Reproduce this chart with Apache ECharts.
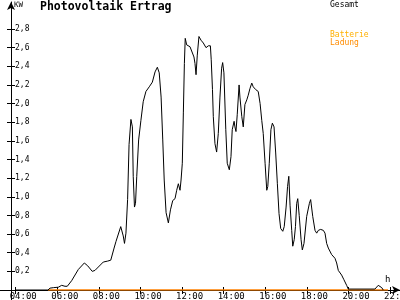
<!DOCTYPE html>
<html><head><meta charset="utf-8">
<script src="https://cdn.jsdelivr.net/npm/echarts@6/dist/echarts.min.js"></script>
<style>html,body{margin:0;padding:0;background:#fff}#c{width:400px;height:300px}</style>
</head><body><div id="c"></div>
<script>
// Time of day (hours) for the "Gesamt" curve
const timeHours = [4.00,5.55,5.65,5.81,6.05,6.21,6.37,6.48,6.69,7.01,
  7.30,7.46,7.68,7.81,8.21,8.42,8.57,8.73,8.82,9.05,
  9.17,9.23,9.30,9.38,9.45,9.54,9.61,9.65,9.71,9.76,
  9.82,9.91,10.02,10.13,10.26,10.42,10.57,10.70,10.81,10.90,
  10.99,11.07,11.14,11.23,11.34,11.44,11.55,11.66,11.74,11.82,
  11.90,11.95,12.01,12.06,12.11,12.15,12.22,12.30,12.38,12.46,
  12.57,12.62,12.67,12.73,12.81,12.91,13.02,13.15,13.26,13.36,
  13.40,13.46,13.50,13.58,13.66,13.74,13.82,13.90,13.95,14.01,
  14.10,14.17,14.27,14.35,14.41,14.50,14.54,14.59,14.65,14.74,
  14.78,14.87,14.94,15.02,15.11,15.18,15.26,15.35,15.42,15.54,
  15.66,15.75,15.83,15.90,15.99,16.07,16.12,16.19,16.27,16.34,
  16.42,16.50,16.58,16.66,16.74,16.84,16.91,17.00,17.07,17.13,
  17.19,17.27,17.32,17.39,17.45,17.51,17.56,17.63,17.72,17.78,
  17.86,17.99,18.12,18.18,18.28,18.39,18.47,18.55,18.66,18.79,
  18.87,18.95,19.03,19.19,19.35,19.43,19.51,19.67,19.78,19.91,
  19.99,21.27,21.43,21.60,21.67];
// Gesamt power (kW)
const gesamtKW = [0,0,0.02,0.025,0.03,0.05,0.04,0.04,0.10,0.22,
  0.29,0.26,0.20,0.21,0.30,0.31,0.32,0.45,0.52,0.68,
  0.58,0.50,0.61,0.97,1.56,1.83,1.75,1.22,0.89,0.93,
  1.22,1.61,1.82,2.02,2.13,2.18,2.23,2.34,2.39,2.33,
  2.07,1.61,1.18,0.83,0.72,0.86,0.96,0.98,1.07,1.14,
  1.07,1.18,1.36,1.90,2.43,2.70,2.63,2.65,2.61,2.63,
  2.50,2.43,2.31,2.52,2.72,2.68,2.65,2.60,2.62,2.62,
  2.47,2.15,1.86,1.57,1.48,1.68,2.07,2.38,2.44,2.33,
  1.72,1.36,1.29,1.43,1.72,1.81,1.75,1.70,1.88,2.20,
  2.07,1.86,1.75,1.99,2.04,2.09,2.16,2.22,2.18,2.15,
  2.13,2.00,1.82,1.68,1.36,1.07,1.11,1.36,1.72,1.79,
  1.75,1.47,1.14,0.82,0.66,0.63,0.68,0.89,1.11,1.22,
  0.91,0.64,0.47,0.54,0.68,0.93,0.98,0.80,0.54,0.43,
  0.50,0.79,0.93,0.97,0.79,0.64,0.61,0.64,0.65,0.64,
  0.61,0.50,0.45,0.38,0.34,0.29,0.21,0.16,0.11,0.05,
  0.01,0.01,0.05,0.025,0];
// Batterie Ladung (kW)
const ladungHours = [5.55, 21.9];
const ladungKW = [0, 0];
// Tick values
const xTickValues = [4,6,8,10,12,14,16,18,20,22];
const yTickValues = [0.2,0.4,0.6,0.8,1.0,1.2,1.4,1.6,1.8,2.0,2.2,2.4,2.6,2.8];

const MONO = 'DejaVu Sans Mono';
const X_MIN = 3.245, X_MAX = 22.476, Y_MAX = 3.09;

const zip = (a, b) => a.map((v, i) => [v, b[i]]);
const pad2 = v => (v < 10 ? '0' : '') + v;

const chart = echarts.init(document.getElementById('c'), null, {renderer: 'canvas'});
chart.setOption({
  animation: false,
  backgroundColor: '#fff',
  title: {
    text: 'Photovoltaik Ertrag', left: 40, top: 1, padding: 0,
    textStyle: {fontFamily: MONO, fontSize: 11.5, fontWeight: 'bold', color: '#000'}
  },
  grid: {left: 0, right: 0, top: 2, bottom: 10, containLabel: false, outerBoundsMode: 'none'},
  xAxis: [{
    type: 'value', min: X_MIN, max: X_MAX,
    axisLine: {show: true, lineStyle: {color: '#000', width: 1}, symbol: ['none', 'arrow'], symbolSize: [6, 8]},
    axisTick: {show: true, customValues: xTickValues, length: 4, lineStyle: {color: '#000'}},
    axisLabel: {
      show: true, customValues: xTickValues, margin: 2,
      fontFamily: MONO, fontSize: 9, color: '#000',
      formatter: v => '{a|' + pad2(v) + ':00}',
      rich: {a: {fontFamily: MONO, fontSize: 9, color: '#000', padding: [0, 0, 0, 15]}}
    },
    splitLine: {show: false}
  }, {
    type: 'value', min: X_MIN, max: X_MAX, position: 'bottom',
    axisLine: {show: false},
    axisTick: {show: true, inside: true, customValues: xTickValues, length: 3, lineStyle: {color: '#000'}},
    axisLabel: {show: false}, splitLine: {show: false}
  }],
  yAxis: [{
    type: 'value', min: 0, max: Y_MAX, offset: -11,
    axisLine: {show: true, lineStyle: {color: '#000', width: 1}, symbol: ['none', 'arrow'], symbolSize: [6, 8]},
    axisTick: {show: true, customValues: yTickValues, length: 4, lineStyle: {color: '#000'}},
    axisLabel: {
      show: true, inside: true, customValues: yTickValues, margin: 4,
      fontFamily: MONO, fontSize: 8, color: '#000',
      formatter: v => v.toFixed(1).replace('.', ',')
    },
    splitLine: {show: false}
  }, {
    type: 'value', min: 0, max: Y_MAX, offset: -11, position: 'left',
    axisLine: {show: false},
    axisTick: {show: true, inside: true, customValues: yTickValues, length: 4, lineStyle: {color: '#000'}},
    axisLabel: {show: false}, splitLine: {show: false}
  }],
  series: [{
    name: 'Batterie Ladung', type: 'line', xAxisIndex: 0, yAxisIndex: 0,
    data: zip(ladungHours, ladungKW), showSymbol: false, symbol: 'none',
    lineStyle: {color: '#ff8000', width: 1.6}, z: 3
  }, {
    name: 'Gesamt', type: 'line', xAxisIndex: 0, yAxisIndex: 0,
    data: zip(timeHours, gesamtKW), showSymbol: false, symbol: 'none',
    lineStyle: {color: '#000', width: 1}, z: 4
  }],
  graphic: [
    {type: 'line', shape: {x1: 11.5, y1: 290, x2: 11.5, y2: 300}, style: {stroke: '#000', lineWidth: 1}},
    {type: 'text', left: 14, top: 1, style: {text: 'KW', font: '7.5px "DejaVu Sans Mono"', fill: '#000'}},
    {type: 'text', left: 385, top: 275, style: {text: 'h', font: '9px "DejaVu Sans Mono"', fill: '#000'}},
    {type: 'text', left: 330, top: 1, style: {text: 'Gesamt', font: '8px "DejaVu Sans Mono"', fill: '#000'}},
    {type: 'text', left: 330, top: 31, style: {text: 'Batterie', font: '8px "DejaVu Sans Mono"', fill: '#ffb000'}},
    {type: 'text', left: 330, top: 39, style: {text: 'Ladung', font: '8px "DejaVu Sans Mono"', fill: '#ff8c00'}}
  ]
});
</script>
</body></html>
